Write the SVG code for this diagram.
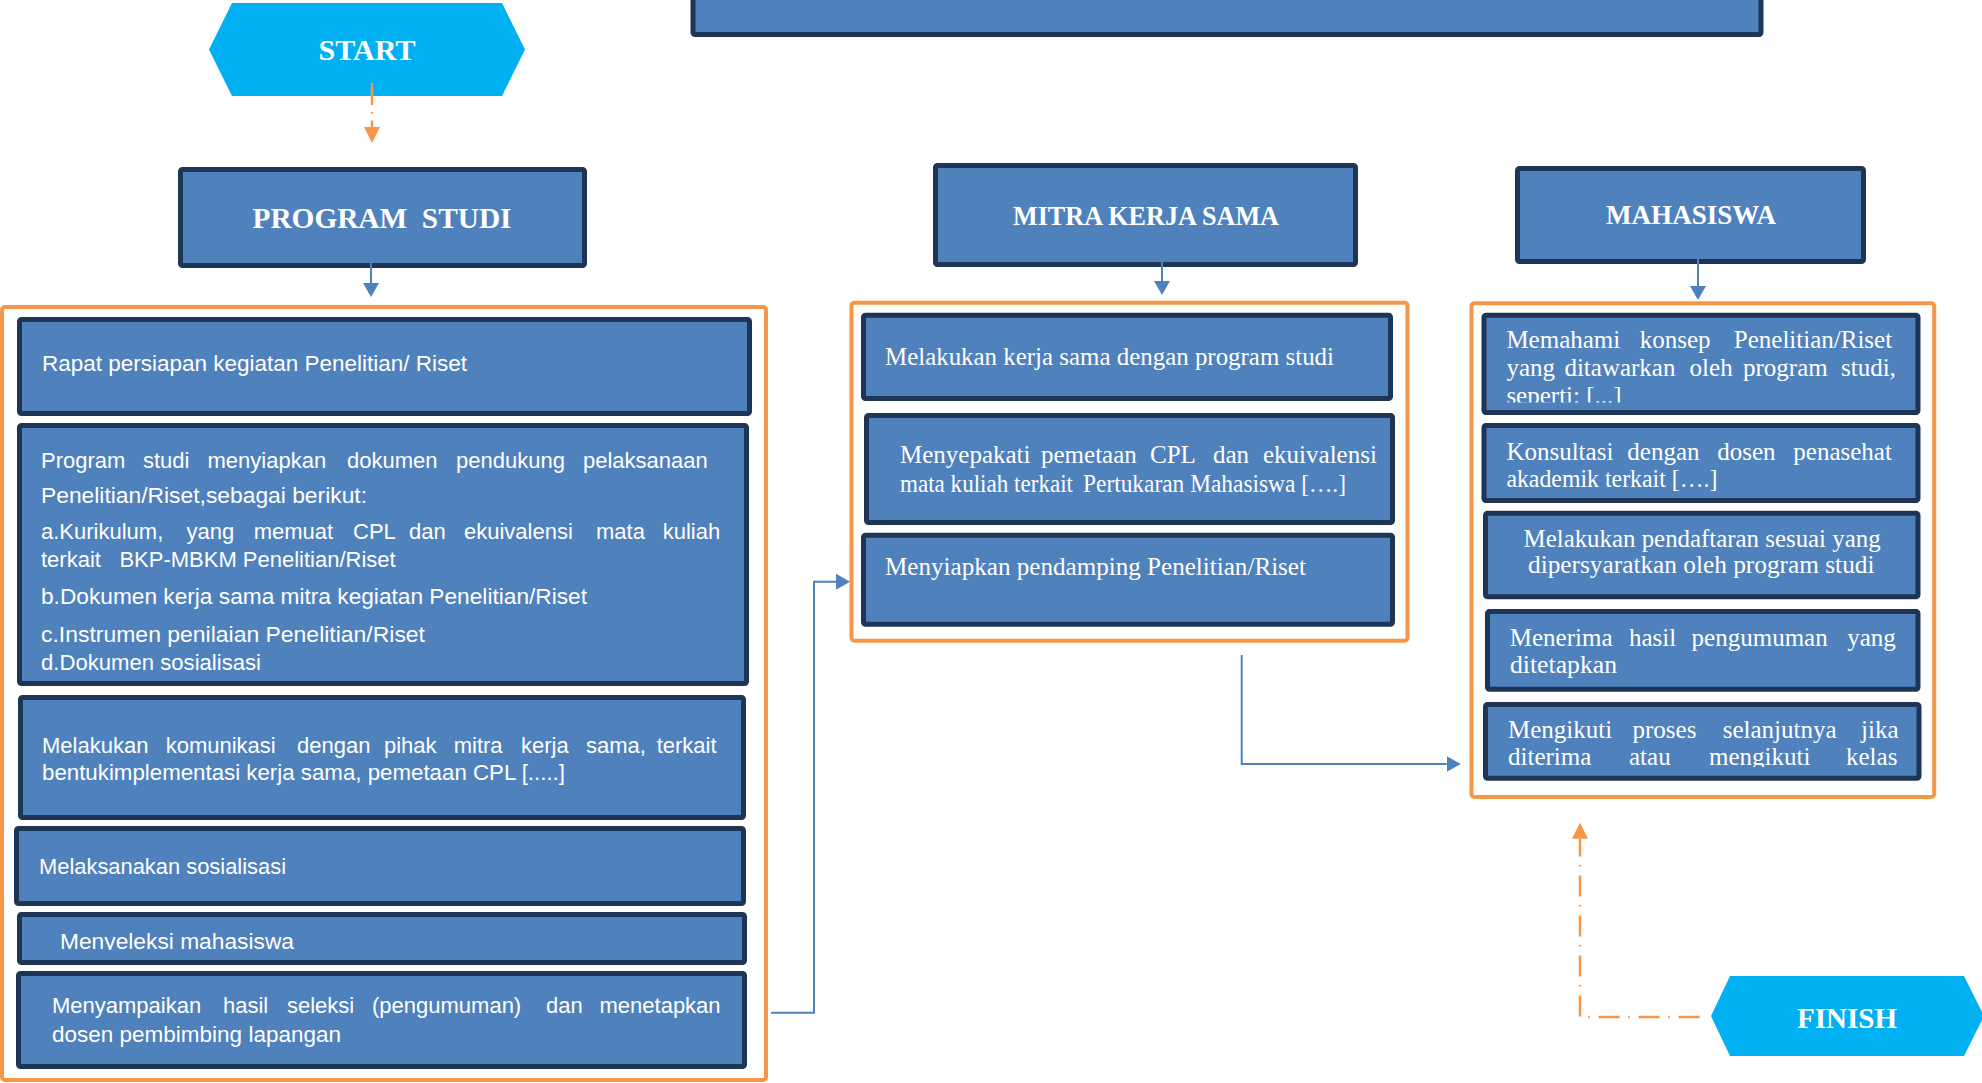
<svg xmlns="http://www.w3.org/2000/svg" width="1982" height="1083" viewBox="0 0 1982 1083">
<style>
.box{fill:#4F81BD;stroke:#1E3556;stroke-width:5}
.grp{fill:none;stroke:#F79646;stroke-width:4}
.hex{fill:#00B0F0}
.t{font-family:"Liberation Sans",Arial,sans-serif;font-size:22px;fill:#fff}
.s{font-family:"Liberation Serif","Times New Roman",serif;font-size:25px;fill:#fff}
.h{font-family:"Liberation Serif","Times New Roman",serif;font-weight:bold;fill:#fff;text-anchor:middle}
.bl{stroke:#4F81BD;stroke-width:2;fill:none}
.or{stroke:#F79646;stroke-width:2.5;fill:none}
</style>
<defs>
<marker id="ab" markerUnits="userSpaceOnUse" markerWidth="14" markerHeight="16" refX="0" refY="8" orient="auto"><path d="M0,0 L14,8 L0,16 z" fill="#4F81BD"/></marker>
<marker id="ao" markerUnits="userSpaceOnUse" markerWidth="16" markerHeight="16" refX="0" refY="8" orient="auto"><path d="M0,0 L16,8 L0,16 z" fill="#F79646"/></marker>
<clipPath id="cR1"><rect x="1484" y="300" width="434" height="102.5"/></clipPath>
<clipPath id="cR5"><rect x="1485" y="700" width="434" height="67"/></clipPath>
<clipPath id="cL5"><rect x="19" y="900" width="725" height="50"/></clipPath>
</defs>

<g id="top-box"><rect class="box" x="693" y="-20" width="1068" height="54.5" rx="2"/></g>

<g id="start"><polygon class="hex" points="232,3 502,3 525,49.5 502,96 232,96 209,49.5"/>
<text class="h" x="367" y="60" font-size="30" textLength="97" lengthAdjust="spacingAndGlyphs">START</text></g>

<g id="program-studi"><rect class="box" x="180.5" y="169.5" width="404" height="96" rx="2"/>
<text class="h" x="382" y="228" font-size="30" textLength="259" lengthAdjust="spacingAndGlyphs" xml:space="preserve">PROGRAM  STUDI</text></g>

<g id="mitra"><rect class="box" x="935.5" y="165.5" width="420" height="99" rx="2"/>
<text class="h" x="1146" y="225" font-size="28" textLength="266" lengthAdjust="spacingAndGlyphs">MITRA KERJA SAMA</text></g>

<g id="mahasiswa"><rect class="box" x="1517.5" y="168.5" width="346" height="93" rx="2"/>
<text class="h" x="1691" y="224" font-size="28" textLength="170" lengthAdjust="spacingAndGlyphs">MAHASISWA</text></g>

<g id="group-prodi"><rect class="grp" x="2" y="307" width="764" height="773" rx="3"/></g>
<g id="group-mitra"><rect class="grp" x="851.5" y="302.7" width="556" height="338" rx="3"/></g>
<g id="group-mhs"><rect class="grp" x="1471.5" y="303.3" width="462.7" height="493.7" rx="3"/></g>

<g id="L1"><rect class="box" x="19.5" y="319.5" width="730" height="94" rx="2"/>
<text class="t" x="42" y="370.5" textLength="425" lengthAdjust="spacingAndGlyphs">Rapat persiapan kegiatan Penelitian/ Riset</text></g>

<g id="L2"><rect class="box" x="19.5" y="425.5" width="727" height="258" rx="2"/>
<text class="t" y="468"><tspan x="41">Program</tspan><tspan x="143">studi</tspan><tspan x="207.5">menyiapkan</tspan><tspan x="347">dokumen</tspan><tspan x="456">pendukung</tspan><tspan x="583">pelaksanaan</tspan></text>
<text class="t" x="41" y="502.7" textLength="326" lengthAdjust="spacingAndGlyphs">Penelitian/Riset,sebagai berikut:</text>
<text class="t" y="539"><tspan x="41">a.Kurikulum,</tspan><tspan x="186.6">yang</tspan><tspan x="253.7">memuat</tspan><tspan x="353">CPL</tspan><tspan x="409">dan</tspan><tspan x="464">ekuivalensi</tspan><tspan x="596">mata</tspan><tspan x="662.7">kuliah</tspan></text>
<text class="t" y="567"><tspan x="41">terkait</tspan><tspan x="119.4">BKP-MBKM Penelitian/Riset</tspan></text>
<text class="t" x="41" y="604" textLength="546" lengthAdjust="spacingAndGlyphs">b.Dokumen kerja sama mitra kegiatan Penelitian/Riset</text>
<text class="t" x="41" y="642" textLength="384" lengthAdjust="spacingAndGlyphs">c.Instrumen penilaian Penelitian/Riset</text>
<text class="t" x="41" y="670" textLength="220" lengthAdjust="spacingAndGlyphs">d.Dokumen sosialisasi</text></g>

<g id="L3"><rect class="box" x="20.5" y="697.5" width="723" height="120" rx="2"/>
<text class="t" y="752.7"><tspan x="42">Melakukan</tspan><tspan x="165.7">komunikasi</tspan><tspan x="297">dengan</tspan><tspan x="384">pihak</tspan><tspan x="453.7">mitra</tspan><tspan x="521">kerja</tspan><tspan x="586">sama,</tspan><tspan x="656.7">terkait</tspan></text>
<text class="t" x="42" y="780" textLength="523" lengthAdjust="spacingAndGlyphs">bentukimplementasi kerja sama, pemetaan CPL [.....]</text></g>

<g id="L4"><rect class="box" x="16.5" y="828.5" width="727" height="75" rx="2"/>
<text class="t" x="39" y="874" textLength="247" lengthAdjust="spacingAndGlyphs">Melaksanakan sosialisasi</text></g>

<g id="L5"><rect class="box" x="19.5" y="914.5" width="725" height="48" rx="2"/>
<text class="t" x="60" y="949" textLength="234" lengthAdjust="spacingAndGlyphs" clip-path="url(#cL5)">Menyeleksi mahasiswa</text></g>

<g id="L6"><rect class="box" x="18.5" y="973.5" width="726" height="93" rx="2"/>
<text class="t" y="1013"><tspan x="52">Menyampaikan</tspan><tspan x="223">hasil</tspan><tspan x="287">seleksi</tspan><tspan x="372">(pengumuman)</tspan><tspan x="546">dan</tspan><tspan x="599.5">menetapkan</tspan></text>
<text class="t" x="52" y="1041.7" textLength="289" lengthAdjust="spacingAndGlyphs">dosen pembimbing lapangan</text></g>

<g id="M1"><rect class="box" x="863.5" y="315.2" width="527" height="83.3" rx="2"/>
<text class="s" x="885" y="365" textLength="449" lengthAdjust="spacingAndGlyphs">Melakukan kerja sama dengan program studi</text></g>

<g id="M2"><rect class="box" x="866.5" y="415.5" width="526" height="107" rx="2"/>
<text class="s" y="462.7"><tspan x="900">Menyepakati</tspan><tspan x="1041">pemetaan</tspan><tspan x="1150">CPL</tspan><tspan x="1213">dan</tspan><tspan x="1263">ekuivalensi</tspan></text>
<text class="s" x="900" y="491.7" textLength="173" lengthAdjust="spacingAndGlyphs">mata kuliah terkait</text>
<text class="s" x="1083" y="491.7" textLength="263" lengthAdjust="spacingAndGlyphs">Pertukaran Mahasiswa [….]</text></g>

<g id="M3"><rect class="box" x="863.5" y="535.2" width="529" height="89" rx="2"/>
<text class="s" x="885" y="575" textLength="421" lengthAdjust="spacingAndGlyphs">Menyiapkan pendamping Penelitian/Riset</text></g>

<g id="R1"><rect class="box" x="1484" y="315.2" width="434" height="97.3" rx="2"/>
<text class="s" y="348"><tspan x="1506.4">Memahami</tspan><tspan x="1639.8">konsep</tspan><tspan x="1733.8">Penelitian/Riset</tspan></text>
<text class="s" y="376"><tspan x="1506.4">yang</tspan><tspan x="1564.4">ditawarkan</tspan><tspan x="1689.6">oleh</tspan><tspan x="1743">program</tspan><tspan x="1841">studi,</tspan></text>
<text class="s" x="1506.4" y="404" clip-path="url(#cR1)">seperti: [...]</text></g>

<g id="R2"><rect class="box" x="1484" y="425.5" width="434" height="75" rx="2"/>
<text class="s" y="460"><tspan x="1506.4">Konsultasi</tspan><tspan x="1627.3">dengan</tspan><tspan x="1717.2">dosen</tspan><tspan x="1793.3">penasehat</tspan></text>
<text class="s" x="1506.4" y="486.7" textLength="211" lengthAdjust="spacingAndGlyphs">akademik terkait [….]</text></g>

<g id="R3"><rect class="box" x="1485.5" y="513.2" width="432.5" height="83.6" rx="2"/>
<text class="s" x="1523.6" y="546.7" textLength="357" lengthAdjust="spacingAndGlyphs">Melakukan pendaftaran sesuai yang</text>
<text class="s" x="1528" y="573.3" textLength="346.5" lengthAdjust="spacingAndGlyphs">dipersyaratkan oleh program studi</text></g>

<g id="R4"><rect class="box" x="1487.5" y="611.5" width="430.5" height="77.7" rx="2"/>
<text class="s" y="646"><tspan x="1509.8">Menerima</tspan><tspan x="1629">hasil</tspan><tspan x="1691.6">pengumuman</tspan><tspan x="1847.2">yang</tspan></text>
<text class="s" x="1510" y="672.7" textLength="107" lengthAdjust="spacingAndGlyphs">ditetapkan</text></g>

<g id="R5"><rect class="box" x="1485.5" y="704.5" width="433.5" height="73.7" rx="2"/>
<text class="s" y="738"><tspan x="1508">Mengikuti</tspan><tspan x="1632.5">proses</tspan><tspan x="1722.7">selanjutnya</tspan><tspan x="1861">jika</tspan></text>
<text class="s" y="765" clip-path="url(#cR5)"><tspan x="1508">diterima</tspan><tspan x="1629">atau</tspan><tspan x="1709">mengikuti</tspan><tspan x="1846">kelas</tspan></text></g>

<g id="finish"><polygon class="hex" points="1730,976 1964,976 1984,1016 1964,1056 1730,1056 1711,1016"/>
<text class="h" x="1847" y="1027.7" font-size="29" textLength="100" lengthAdjust="spacingAndGlyphs">FINISH</text></g>

<g id="connectors">
<path class="or" d="M372,83 V127" stroke-dasharray="22,7,1.5,7" marker-end="url(#ao)"/>
<path class="bl" d="M371,252 V283" marker-end="url(#ab)"/>
<path class="bl" d="M1162,250 V281" marker-end="url(#ab)"/>
<path class="bl" d="M1698,257 V286" marker-end="url(#ab)"/>
<path class="bl" d="M771,1012.7 H814 V581.7 H836" marker-end="url(#ab)"/>
<path class="bl" d="M1241.7,655 V764 H1446.7" marker-end="url(#ab)"/>
<path class="or" d="M1699.6,1017 H1580 V838.7" stroke-dasharray="21,9,1.5,8.5" marker-end="url(#ao)"/>
</g>
</svg>
